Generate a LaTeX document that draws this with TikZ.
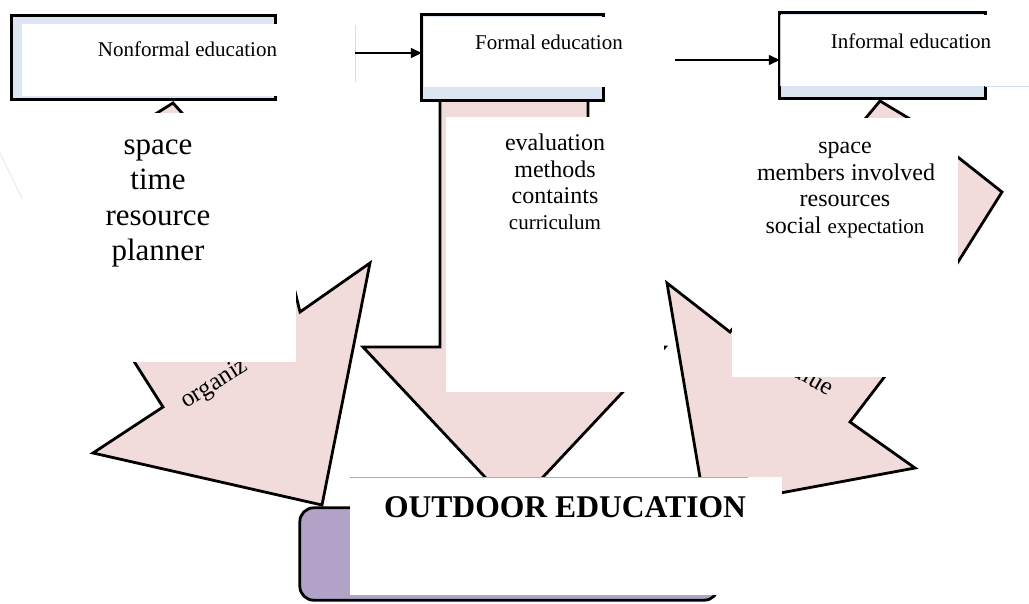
\documentclass[tikz,border=0pt]{standalone}
\usepackage{fontspec}
\setmainfont{Liberation Serif}
\usetikzlibrary{arrows.meta}
\definecolor{pinkf}{HTML}{F2DCDB}
\definecolor{bluef}{HTML}{DCE6F2}
\definecolor{purpf}{HTML}{B2A2C7}
\definecolor{lavl}{HTML}{B9A0D0}
\definecolor{faintblue}{HTML}{CFE0F4}
\begin{document}
\begin{tikzpicture}[x=1pt,y=-1pt,
  pinkarrow/.style={fill=pinkf,draw=black,line width=2.8pt,line join=miter},
  boxborder/.style={draw=black,line width=2.8pt},
  boxshape/.style={inner sep=0pt,draw=none},
  patch/.style={fill=white,draw=none},
  boxlbl/.style={inner sep=0pt,anchor=base,font=\fontsize{21}{25}\selectfont},
  bigtxt/.style={inner sep=0pt,anchor=base,font=\fontsize{31}{35}\selectfont},
  midtxt/.style={inner sep=0pt,anchor=base,font=\fontsize{24}{28}\selectfont},
  smalltxt/.style={inner sep=0pt,anchor=base,font=\fontsize{21}{25}\selectfont},
  arrtxt/.style={inner sep=0pt,font=\fontsize{25}{29}\selectfont},
  conn/.style={line width=1.4pt,-{Triangle[length=11pt,width=10pt]}}]
\useasboundingbox (0,0) rectangle (1029,603);

% ---- pink block arrows ----
\draw[pinkarrow] (173,103) -- (200,133) -- (285,250) -- (300,312) -- (370,263)
  -- (322,505) -- (93,453) -- (163,407) -- (20,182) -- (141,123) -- cycle;
\node[arrtxt,rotate=32,anchor=base west] (orgtxt) at (186,409) {organiz};

\draw[pinkarrow] (440,100) -- (440,347) -- (363,347) -- (514,508) -- (665,347)
  -- (588,347) -- (588,100) -- cycle;

\draw[pinkarrow] (880,101) -- (925,128) -- (940,143) -- (1002,192) -- (958,262)
  -- (940,291) -- (905,350) -- (850,422) -- (915,468) -- (705,507) -- (667,283)
  -- (730,332) -- (760,295) -- (850,137) -- cycle;
\node[arrtxt,rotate=-30,anchor=base east] (valtxt) at (828,396) {value};

% ---- white patches ----
\fill[patch] (0,113) rectangle (296,362);
\fill[patch] (446,117) rectangle (664,392);
\fill[patch] (732,118) rectangle (958,377);
\draw[gray!25,line width=0.6pt] (0,153) -- (22,198);

% ---- top boxes ----
\node[boxshape,minimum width=263pt,minimum height=83pt] (nonformal) at (143.5,57.5) {};
\draw[boxborder,fill=bluef] (nonformal.north west) rectangle (nonformal.south east);
\fill[patch] (22,24) rectangle (277,96);
\draw[faintblue,line width=0.8pt] (355,25) -- (355,82);

\node[boxshape,minimum width=181pt,minimum height=85pt] (formal) at (512.5,57.5) {};
\draw[boxborder,fill=bluef] (formal.north west) rectangle (formal.south east);
\fill[patch] (424.3,17.3) rectangle (606,87);

\node[boxshape,minimum width=205pt,minimum height=85pt] (informal) at (882.5,55.5) {};
\draw[boxborder,fill=bluef] (informal.north west) rectangle (informal.south east);
\fill[patch] (781,15) rectangle (1029,86);
\draw[gray!45,line width=0.5pt] (780.6,15) -- (780.6,86);
\draw[faintblue,line width=0.8pt] (985,86) -- (1029,86);

% ---- bottom box ----
\node[boxshape,minimum width=418pt,minimum height=92pt] (outdoor) at (509,554) {};
\draw[boxborder,fill=purpf,rounded corners=14pt] (outdoor.north west) rectangle (outdoor.south east);
\fill[patch] (350,477) rectangle (782,595);
\draw[lavl,line width=1pt] (350,477) -- (748,477);

% ---- labels ----
\node[boxlbl] (nonformaltxt) at (187.5,56) {Nonformal education};
\node[boxlbl] (formaltxt) at (549,49) {Formal education};
\node[boxlbl] (informaltxt) at (911,48) {Informal education};
\node[inner sep=0pt,anchor=base,font=\bfseries\fontsize{31.6}{36}\selectfont] (outdoortxt) at (565,517) {OUTDOOR EDUCATION};

\node[bigtxt] (l1) at (158,154) {space};
\node[bigtxt] (l2) at (158,189) {time};
\node[bigtxt] (l3) at (158,225) {resource};
\node[bigtxt] (l4) at (158,260) {planner};

\node[midtxt] (m1) at (555,150) {evaluation};
\node[midtxt] (m2) at (555,177) {methods};
\node[midtxt] (m3) at (555,203) {containts};
\node[smalltxt] (m4) at (555,229) {curriculum};

\node[midtxt] (r1) at (845,153) {space};
\node[midtxt] (r2) at (846,180) {members involved};
\node[midtxt] (r3) at (845,206) {resources};
\node[midtxt] (r4) at (845,233) {social {\fontsize{21}{25}\selectfont expectation}};

% ---- connectors ----
\coordinate (nfout) at (355,53);
\draw[conn] (nfout) -- (nfout -| formal.west);
\coordinate (fout) at (675,60);
\draw[conn] (fout) -- (fout -| informal.west);
\end{tikzpicture}
\end{document}
